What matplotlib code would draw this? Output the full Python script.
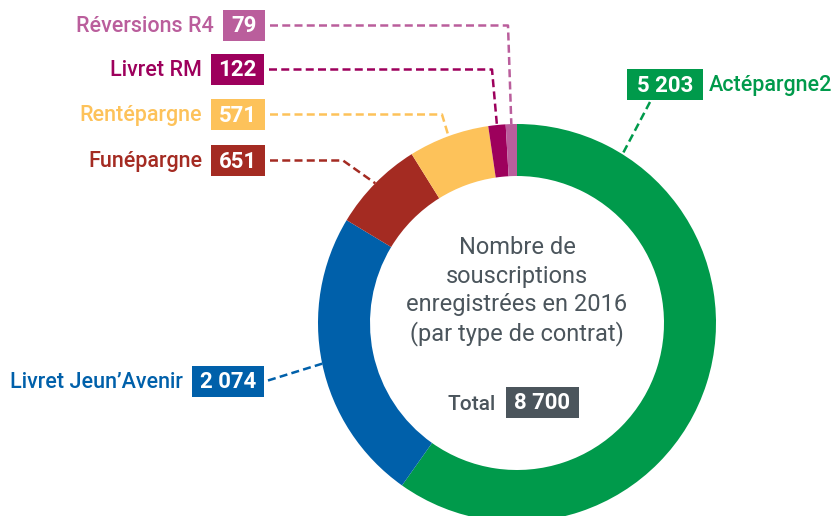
import numpy as np
import matplotlib
matplotlib.use("Agg")
import matplotlib.pyplot as plt
from matplotlib.patches import Rectangle

plt.rcParams['font.family'] = ['Roboto', 'DejaVu Sans']

categories = ["Actépargne2", "Livret Jeun’Avenir", "Funépargne", "Rentépargne", "Livret RM", "Réversions R4"]
values = [5203, 2074, 651, 571, 122, 79]
value_labels = ["5 203", "2 074", "651", "571", "122", "79"]
colors = ["#009a4b", "#0060aa", "#a42b22", "#fdc25a", "#9d005c", "#ba5e9c"]
total_label = "8 700"

W, H = 831, 516
CX, CY = 517, 323
R_OUT, RING = 199, 52

fig = plt.figure(figsize=(W / 100, H / 100), dpi=100)
ax = fig.add_axes([0, 0, 1, 1])

# y axis inverted -> counterclock in data = clockwise on screen
ax.pie(values, colors=colors, startangle=-90, counterclock=True, center=(CX, CY), radius=R_OUT,
       wedgeprops=dict(width=RING, linewidth=0))
ax.set_xlim(0, W)
ax.set_ylim(H, 0)
ax.set_aspect('auto')
ax.axis('off')


def ring_point(theta_deg):
    t = np.radians(theta_deg)
    return CX + R_OUT * np.sin(t), CY - R_OUT * np.cos(t)


# mid angles, clockwise from top
cum = np.cumsum([0] + values)
mids = (cum[:-1] + cum[1:]) / 2 / cum[-1] * 360

# box layout: (x0, x1, y0, y1)
boxes = {
    0: (627, 703, 69, 100),
    1: (192, 264, 366, 397),
    2: (211, 265, 145, 176),
    3: (211, 265, 99, 130),
    4: (211, 264, 54, 85),
    5: (223, 265, 10, 41),
}
bends = {2: 343, 3: 442, 4: 492, 5: 508}
dash = (0, (3.2, 1.7))
LW = 1.8

for i, cat in enumerate(categories):
    x0, x1, y0, y1 = boxes[i]
    c = colors[i]
    ax.add_patch(Rectangle((x0, y0), x1 - x0, y1 - y0, color=c, lw=0))
    ax.text((x0 + x1) / 2, (y0 + y1) / 2 + 1, value_labels[i], color='white', fontsize=16,
            fontweight='bold', ha='center', va='center')
    ym = (y0 + y1) / 2
    if i == 0:
        ax.text(x1 + 6, ym + 1, cat, color=c, fontsize=15.5, fontweight='medium', ha='left', va='center')
        px, py = ring_point(32)
        ax.plot([650, px], [y1 + 2, py], color=c, lw=LW, ls=dash)
    else:
        ax.text(x0 - 9, ym + 1, cat, color=c, fontsize=15.5, fontweight='medium', ha='right', va='center')
        px, py = ring_point(mids[i])
        if i in bends:
            ax.plot([x1 + 5, bends[i], px], [ym, ym, py], color=c, lw=LW, ls=dash)
        else:
            ax.plot([x1 + 4, px], [ym - 1, py], color=c, lw=LW, ls=dash)

center_lines = ["Nombre de", "souscriptions", "enregistrées en 2016", "(par type de contrat)"]
for k, line in enumerate(center_lines):
    ax.text(CX, 248 + k * 28.5, line, color='#4b555c', fontsize=17, ha='center', va='center')

ax.add_patch(Rectangle((506, 387), 73, 31, color='#4b555c', lw=0))
ax.text(542.5, 403, total_label, color='white', fontsize=16, fontweight='bold', ha='center', va='center')
ax.text(496, 404, "Total", color='#4b555c', fontsize=15, fontweight='medium', ha='right', va='center')

fig.savefig("out.png", dpi=100)
